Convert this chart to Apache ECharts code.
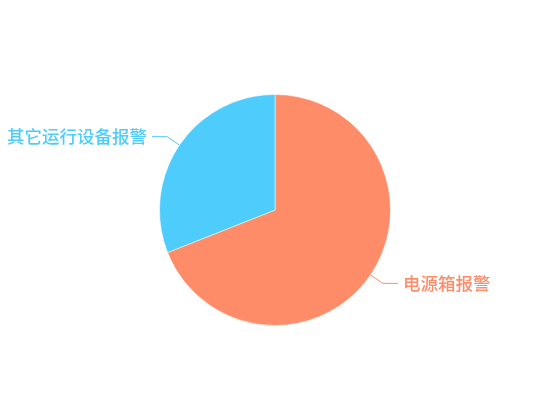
<!DOCTYPE html>
<html>
<head>
<meta charset="utf-8">
<script src="https://cdn.jsdelivr.net/npm/echarts@6/dist/echarts.min.js"></script>
<style>html,body{margin:0;padding:0;background:#fff;}#c{width:550px;height:420px;}</style>
</head>
<body>
<div id="c"></div>
<script>
const categories = ['电源箱报警', '其它运行设备报警'];
const values = [69, 31];
const colors = ['#ff8c69', '#4ecdfc'];

const chart = echarts.init(document.getElementById('c'));
chart.setOption({
  backgroundColor: '#ffffff',
  color: colors,
  series: [{
    type: 'pie',
    center: ['50%', '50%'],
    radius: '55%',
    startAngle: 90,
    clockwise: true,
    data: categories.map((n, i) => ({ name: n, value: values[i] })),
    label: {
      show: true,
      fontSize: 17.5,
      fontWeight: 500,
      fontFamily: 'Noto Sans CJK SC',
      color: 'inherit',
      overflow: 'none'
    },
    labelLine: { show: true, length: 15, length2: 15 },
    itemStyle: { borderColor: '#fff', borderWidth: 0.5 },
    emphasis: { disabled: true }
  }]
});
</script>
</body>
</html>
